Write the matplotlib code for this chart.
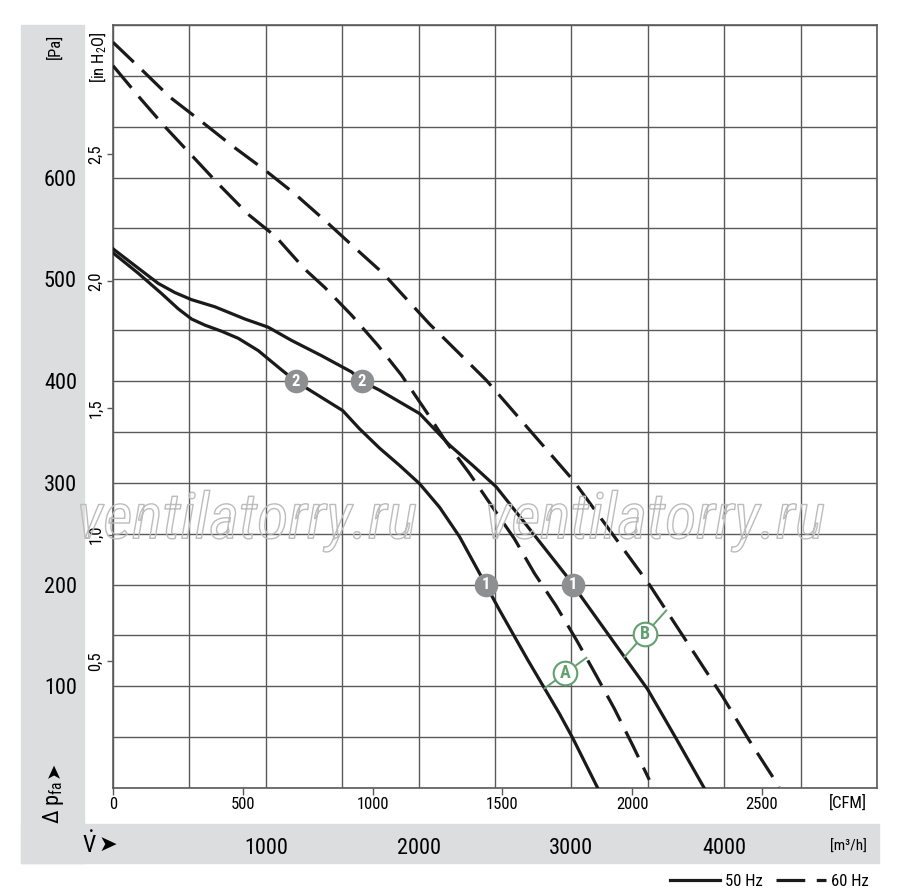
import numpy as np
import matplotlib
matplotlib.use("Agg")
import matplotlib.pyplot as plt
import matplotlib.patheffects as pe
from matplotlib.patches import Rectangle
from matplotlib import font_manager

# Curve data: flow [m3/h] and pressure [Pa]
flow_50_low = [0, 165, 318, 427, 514, 601, 710, 820, 950, 1103, 1203, 1503, 1614, 1745,
               1876, 2007, 2137, 2268, 2399, 2529, 2714, 2922, 3009, 3172]
pa_50_low = [526, 506, 486, 471, 461, 455, 449, 442, 430, 411, 399, 371, 353, 334,
             317, 299, 276, 247, 211, 175, 126, 73, 49, 0]

flow_50_high = [0, 165, 296, 405, 514, 667, 863, 1015, 1168, 1364, 1561, 1627, 1745,
                2007, 2203, 2355, 2508, 2682, 2965, 3074, 3303, 3499, 3684, 3869]
pa_50_high = [530, 511, 496, 487, 480, 473, 461, 453, 440, 425, 409, 400, 391,
              368, 337, 317, 296, 263, 209, 186, 138, 97, 49, 0]

flow_60_low = [0, 172, 340, 514, 688, 884, 1065, 1255, 1386, 1560, 1734, 1887, 2050,
               2181, 2334, 2475, 2627, 2758, 2900, 3035, 3161, 3281, 3401, 3510]
pa_60_low = [710, 679, 650, 622, 594, 564, 542, 510, 492, 465, 435, 406, 370,
             340, 309, 278, 245, 211, 179, 145, 111, 78, 42, 8]

flow_60_high = [0, 188, 373, 580, 782, 989, 1190, 1386, 1575, 1767, 1876, 2072, 2442,
                3009, 3510, 3706, 3989, 4163, 4360]
pa_60_high = [733, 706, 679, 655, 631, 608, 584, 558, 532, 506, 488, 456, 401,
              303, 200, 155, 90, 47, 1]

# operating point marks (pressure levels) and labels
mark_pa = [400, 400, 200, 200]
mark_txt = ["2", "2", "1", "1"]
mark_curve = ["low", "high", "low", "high"]

# A / B connectors: flow on the 50 Hz curve and on the 60 Hz curve
conn_txt = ["A", "B"]
conn_flow_50 = [2824, 3347]
conn_flow_60 = [3098, 3621]

pa_ticks = [100, 200, 300, 400, 500, 600]
m3h_ticks = [1000, 2000, 3000, 4000]
cfm_ticks = [0, 500, 1000, 1500, 2000, 2500]
inh2o_ticks = [0.5, 1.0, 1.5, 2.0, 2.5]

names = {f.name for f in font_manager.fontManager.ttflist}
FONT = "DejaVu Sans"
for cand in ["Liberation Sans Narrow", "Roboto Condensed", "Liberation Sans"]:
    if cand in names:
        FONT = cand
        break
plt.rcParams["font.family"] = [FONT, "DejaVu Sans"]
plt.rcParams["mathtext.fontset"] = "custom"
plt.rcParams["mathtext.rm"] = FONT
plt.rcParams["mathtext.it"] = FONT + ":italic"

W, H = 900, 890
GREY = "#dcdddf"
GRID = "#5a5a5a"
GREEN = "#63a070"
MARK = "#8e8f91"


def fx(px):
    return px / W


def fy(py):
    return 1 - py / H


fig = plt.figure(figsize=(9, 8.9), dpi=100)

# grey panels (behind everything)
fig.patches.append(Rectangle((fx(21), fy(863)), fx(84) - fx(21), fy(25) - fy(863),
                             transform=fig.transFigure, color=GREY, zorder=-5))
fig.patches.append(Rectangle((fx(21), fy(863)), fx(879) - fx(21), fy(824) - fy(863),
                             transform=fig.transFigure, color=GREY, zorder=-5))

ax = fig.add_axes([fx(113), fy(788), fx(877) - fx(113), fy(25) - fy(788)])
ax.set_xlim(0, 5000)
ax.set_ylim(0, 750)

ax.set_xticks(np.arange(0, 5001, 500))
ax.set_xticklabels([str(v) if v in m3h_ticks else "" for v in np.arange(0, 5001, 500)],
                   fontsize=16)
ax.set_yticks(np.arange(0, 751, 50))
ax.set_yticklabels([str(v) if v in pa_ticks else "" for v in np.arange(0, 751, 50)],
                   fontsize=16)
ax.tick_params(axis="x", length=0, pad=36)
ax.tick_params(axis="y", length=0, pad=26)
ax.grid(True, color=GRID, lw=1.0)
ax.set_axisbelow(True)
for s in ax.spines.values():
    s.set_color(GRID)
    s.set_linewidth(1.2)

# secondary scales
sec_x = ax.secondary_xaxis("bottom", functions=(lambda m: m / 1.699, lambda c: c * 1.699))
sec_x.set_xticks(cfm_ticks)
sec_x.set_xticklabels([str(v) for v in cfm_ticks], fontsize=12)
sec_x.tick_params(length=5, width=1, color=GRID, pad=1.5)
sec_x.spines["bottom"].set_visible(False)

sec_y = ax.secondary_yaxis("left", functions=(lambda p: p / 249.089, lambda i: i * 249.089))
sec_y.set_yticks(inh2o_ticks)
sec_y.set_yticklabels([f"{v:.1f}".replace(".", ",") for v in inh2o_ticks],
                      fontsize=12, rotation=90, va="center")
sec_y.tick_params(length=4, width=1, color=GRID, pad=3)
sec_y.spines["left"].set_visible(False)

# watermark (outline only)
for cx in (247, 655):
    fig.text(fx(cx), fy(521), "ventilatorry.ru", fontsize=46, style="italic",
             ha="center", va="center", color="none", zorder=1.5,
             path_effects=[pe.withStroke(linewidth=1.0, foreground="#bcbcbc")])

lw = 2.3
dash = (9, 3.6)
l50, = ax.plot(flow_50_low, pa_50_low, color="#1a1a1a", lw=lw, zorder=4, label="50 Hz")
ax.plot(flow_50_high, pa_50_high, color="#1a1a1a", lw=lw, zorder=4)
l60, = ax.plot(flow_60_low, pa_60_low, color="#1a1a1a", lw=lw, dashes=dash, zorder=4,
               label="60 Hz")
ax.plot(flow_60_high, pa_60_high, color="#1a1a1a", lw=lw, dashes=dash, zorder=4)

curves_50 = {"low": (flow_50_low, pa_50_low), "high": (flow_50_high, pa_50_high)}
for p, t, c in zip(mark_pa, mark_txt, mark_curve):
    fl, pa = curves_50[c]
    q = np.interp(p, pa[::-1], fl[::-1])
    ax.plot(q, p, "o", ms=17, color=MARK, mec="none", zorder=6)
    ax.text(q, p, t, color="white", fontsize=12, fontweight="bold",
            ha="center", va="center", zorder=7)

for t, q50, q60 in zip(conn_txt, conn_flow_50, conn_flow_60):
    if t == "A":
        p50 = np.interp(q50, flow_50_low, pa_50_low)
        p60 = np.interp(q60, flow_60_low, pa_60_low)
    else:
        p50 = np.interp(q50, flow_50_high, pa_50_high)
        p60 = np.interp(q60, flow_60_high, pa_60_high)
    ax.plot([q50, q60], [p50, p60], color=GREEN, lw=1.4, zorder=5)
    ax.plot((q50 + q60) / 2, (p50 + p60) / 2, "o", ms=17, mfc="white", mec=GREEN,
            mew=1.5, zorder=6)
    ax.text((q50 + q60) / 2, (p50 + p60) / 2, t, color=GREEN, fontsize=13,
            fontweight="bold", ha="center", va="center", zorder=7)

# unit labels
fig.text(fx(55), fy(46), "[Pa]", rotation=90, fontsize=12, ha="center", va="center")
fig.text(fx(98), fy(57), "[in H$_2$O]", rotation=90, fontsize=12, ha="center", va="center")
fig.text(fx(54), fy(802), "\u0394 p$_{\\mathregular{fa}}$", rotation=90, fontsize=16,
         ha="center", va="center")
fig.text(fx(54), fy(770), "\u27a4", rotation=90, fontsize=14, ha="center", va="center",
         family="DejaVu Sans")
fig.text(fx(89), fy(845), "$\\dot{\\mathregular{V}}$", fontsize=17, ha="center",
         va="center")
fig.text(fx(108), fy(845), "\u27a4", fontsize=16, ha="center", va="center",
         family="DejaVu Sans")
fig.text(fx(848), fy(803), "[CFM]", fontsize=12, ha="center", va="center")
fig.text(fx(848), fy(847), "[m\u00b3/h]", fontsize=11, ha="center", va="center")

fig.legend(handles=[l50, l60], loc="lower right", bbox_to_anchor=(fx(871), fy(891)),
           ncol=2, frameon=False, fontsize=12, handlelength=3.0, handletextpad=0.3,
           columnspacing=0.8, borderaxespad=0.0, borderpad=0.15)

fig.savefig("out.png", dpi=100)
